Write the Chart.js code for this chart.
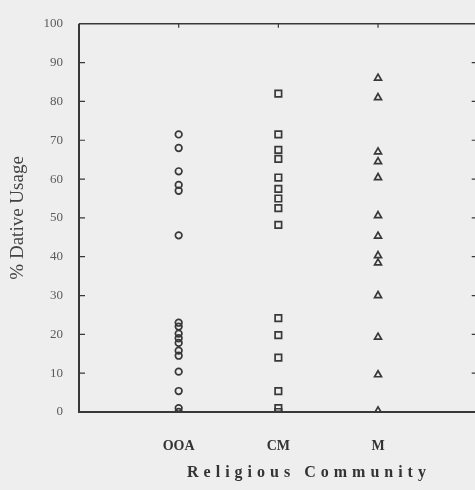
<!DOCTYPE html>
<html>
<head>
<meta charset="utf-8">
<script src="https://cdn.jsdelivr.net/npm/chart.js@4"></script>
<style>
  html, body { margin: 0; padding: 0; background: #eeeeee; overflow: hidden; }
  canvas { display: block; }
</style>
</head>
<body>
<canvas id="myChart" width="484" height="490"></canvas>
<script>
// Categorias (comunidade religiosa) e valores (% uso do dativo)
const categories = ['OOA', 'CM', 'M'];
const ooaValues = [71.5, 68, 62, 58.5, 57, 45.5, 23, 22, 20.2, 19, 17.8, 15.8, 14.5, 10.4, 5.4, 1, 0];
const cmValues = [82, 71.5, 67.5, 65.2, 60.4, 57.5, 55, 52.5, 48.2, 24.2, 19.8, 14, 5.4, 1, 0];
const mValues = [86, 81, 67, 64.5, 60.4, 50.6, 45.3, 40.3, 38.4, 30, 19.3, 9.6, 0.3];
const yTicks = [0, 10, 20, 30, 40, 50, 60, 70, 80, 90, 100];

const ink = '#383838';

function toPoints(values, idx) {
  return values.map(v => ({ x: idx + 1, y: v }));
}

// fundo cinza claro, como o papel digitalizado
const background = {
  id: 'background',
  beforeDraw(chart) {
    const c = chart.ctx;
    c.save();
    c.fillStyle = '#eeeeee';
    c.fillRect(0, 0, chart.width, chart.height);
    c.restore();
  }
};

// moldura com marcas para dentro
const frame = {
  id: 'frame',
  beforeDatasetsDraw(chart) {
    const c = chart.ctx;
    const a = chart.chartArea;
    const x = chart.scales.x, y = chart.scales.y;
    c.save();
    c.strokeStyle = ink;
    c.lineWidth = 2;
    c.beginPath();
    c.moveTo(a.left, a.top); c.lineTo(a.left, a.bottom); c.lineTo(a.right, a.bottom);
    c.stroke();
    c.lineWidth = 1.5;
    c.beginPath();
    c.moveTo(a.left, a.top); c.lineTo(a.right, a.top); c.lineTo(a.right, a.bottom);
    c.stroke();
    c.lineWidth = 1.2;
    c.beginPath();
    yTicks.slice(1, -1).forEach(v => {
      const py = y.getPixelForValue(v);
      c.moveTo(a.left, py); c.lineTo(a.left + 6, py);
      c.moveTo(a.right, py); c.lineTo(a.right - 6, py);
    });
    categories.forEach((cat, i) => {
      const px = x.getPixelForValue(i + 1);
      c.moveTo(px, a.top); c.lineTo(px, a.top + 4);
    });
    c.stroke();

    // título do eixo x com espaçamento largo
    c.fillStyle = '#333';
    c.font = 'bold 16px "Liberation Serif"';
    c.letterSpacing = '5px';
    c.textAlign = 'center';
    c.textBaseline = 'middle';
    c.fillText('Religious Community', 309, 473);
    c.restore();
  }
};

const data = {
  datasets: [
    {
      label: 'OOA',
      data: toPoints(ooaValues, 0),
      pointStyle: 'circle',
      pointRadius: 3.3,
      borderColor: ink,
      backgroundColor: 'rgba(0,0,0,0)',
      borderWidth: 1.7
    },
    {
      label: 'CM',
      data: toPoints(cmValues, 1),
      pointStyle: 'rect',
      pointRadius: 4.6,
      borderColor: ink,
      backgroundColor: 'rgba(0,0,0,0)',
      borderWidth: 1.7
    },
    {
      label: 'M',
      data: toPoints(mValues, 2),
      pointStyle: 'triangle',
      pointRadius: 4,
      borderColor: ink,
      backgroundColor: 'rgba(0,0,0,0)',
      borderWidth: 1.7
    }
  ]
};

const options = {
  responsive: false,
  devicePixelRatio: 1,
  animation: false,
  layout: { padding: { left: 0, top: 14, right: 3, bottom: 0 } },
  plugins: {
    legend: { display: false },
    tooltip: { enabled: false }
  },
  scales: {
    x: {
      type: 'linear',
      min: 0,
      max: 4,
      grid: { display: false, drawTicks: false },
      border: { display: false },
      afterFit: s => { s.height = 78; },
      afterBuildTicks: s => { s.ticks = categories.map((c, i) => ({ value: i + 1 })); },
      ticks: {
        padding: 26,
        color: '#333',
        font: { family: 'Liberation Serif', size: 14, weight: 'bold' },
        callback: v => categories[v - 1] || ''
      }
    },
    y: {
      min: 0,
      max: 100,
      grid: { display: false, drawTicks: false },
      border: { display: false },
      afterFit: s => { s.width = 79; },
      afterBuildTicks: s => { s.ticks = yTicks.map(v => ({ value: v })); },
      ticks: {
        padding: 16,
        color: '#5a5a5a',
        font: { family: 'Liberation Serif', size: 13 }
      },
      title: {
        display: true,
        text: '% Dative Usage',
        color: '#444',
        font: { family: 'Liberation Serif', size: 19 },
        padding: { top: 7, bottom: 0 }
      }
    }
  }
};

const ctx = document.getElementById('myChart').getContext('2d');
const myChart = new Chart(ctx, {
  type: 'scatter',
  data: data,
  options: options,
  plugins: [background, frame]
});
</script>
</body>
</html>
